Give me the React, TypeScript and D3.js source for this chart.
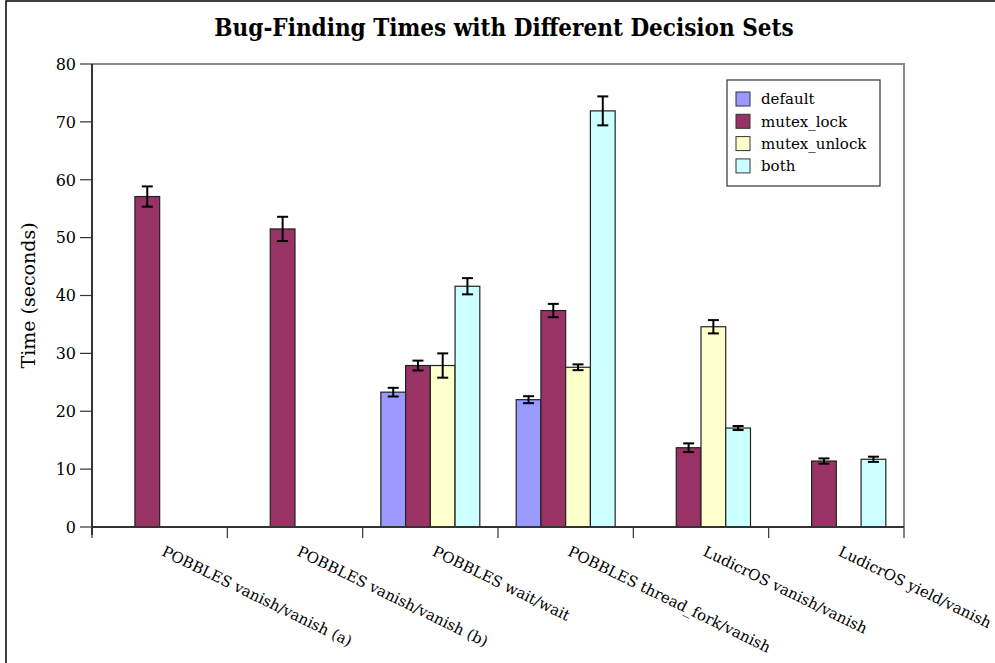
import * as d3 from "d3";

const W = 995;
const H = 663;
const MARGIN = { top: 64, right: 91, bottom: 136, left: 92 };

const categories = [
  "POBBLES vanish/vanish (a)",
  "POBBLES vanish/vanish (b)",
  "POBBLES wait/wait",
  "POBBLES thread_fork/vanish",
  "LudicrOS vanish/vanish",
  "LudicrOS yield/vanish",
];
const seriesNames = ["default", "mutex_lock", "mutex_unlock", "both"];
const seriesColors = ["#9999ff", "#993366", "#ffffcc", "#ccffff"];

const defaultTimes = [0, 0, 23.3, 22.0, 0, 0];
const mutexLockTimes = [57.1, 51.5, 27.9, 37.4, 13.7, 11.4];
const mutexUnlockTimes = [0, 0, 27.9, 27.6, 34.6, 0];
const bothTimes = [0, 0, 41.6, 71.9, 17.1, 11.7];

const defaultErr = [0, 0, 0.75, 0.6, 0, 0];
const mutexLockErr = [1.75, 2.1, 0.85, 1.15, 0.75, 0.45];
const mutexUnlockErr = [0, 0, 2.1, 0.5, 1.15, 0];
const bothErr = [0, 0, 1.4, 2.5, 0.35, 0.45];

const yTicks = [0, 10, 20, 30, 40, 50, 60, 70, 80];

const seriesValues = [defaultTimes, mutexLockTimes, mutexUnlockTimes, bothTimes];
const seriesErrors = [defaultErr, mutexLockErr, mutexUnlockErr, bothErr];

export default function App() {
  const x0 = d3
    .scaleBand<string>()
    .domain(categories)
    .range([MARGIN.left, W - MARGIN.right])
    .paddingInner(0)
    .paddingOuter(0);

  const x1 = d3
    .scaleBand<string>()
    .domain(seriesNames)
    .range([0, x0.bandwidth()])
    .paddingInner(0)
    .paddingOuter(0.735);

  const y = d3
    .scaleLinear()
    .domain([0, 80])
    .range([H - MARGIN.bottom, MARGIN.top]);

  const y0 = y(0);
  const left = MARGIN.left;
  const right = W - MARGIN.right;
  const serif = "'DejaVu Serif', serif";
  const serifCond = "'DejaVu Serif Condensed', 'DejaVu Serif', serif";

  return (
    <svg
      width={W}
      height={H}
      style={{ position: "absolute", left: 0, top: 0, background: "white" }}
    >
      {/* outer frame */}
      <rect x={6} y={1} width={W + 10} height={H + 10} fill="white" stroke="#000" strokeWidth={1.5} />

      {/* title */}
      <text
        x={504}
        y={36}
        textAnchor="middle"
        fontFamily={serifCond}
        fontWeight="bold"
        fontSize={24}
        fill="#000"
      >
        Bug-Finding Times with Different Decision Sets
      </text>

      {/* plot frame (top / right) */}
      <path
        d={`M${left},${y(80)}H${right}V${y0}`}
        fill="none"
        stroke="#8a8a8a"
        strokeWidth={2}
      />

      {/* bars */}
      {categories.map((cat, ci) => (
        <g key={cat} transform={`translate(${x0(cat)},0)`}>
          {seriesNames.map((s, si) => {
            const v = seriesValues[si][ci];
            const bx = x1(s)!;
            const bw = x1.bandwidth();
            if (v === 0) {
              return (
                <line
                  key={s}
                  x1={bx}
                  x2={bx + bw}
                  y1={y0}
                  y2={y0}
                  stroke="#222"
                  strokeWidth={2}
                />
              );
            }
            return (
              <rect
                key={s}
                x={bx}
                y={y(v)}
                width={bw}
                height={y0 - y(v)}
                fill={seriesColors[si]}
                stroke="#222"
                strokeWidth={1.2}
              />
            );
          })}
          {seriesNames.map((s, si) => {
            const v = seriesValues[si][ci];
            const e = seriesErrors[si][ci];
            if (v === 0 || e === 0) return null;
            const cx = x1(s)! + x1.bandwidth() / 2;
            const yt = y(v + e);
            const yb = y(v - e);
            return (
              <g key={s} stroke="#000" strokeWidth={2}>
                <line x1={cx} x2={cx} y1={yt} y2={yb} />
                <line x1={cx - 5.5} x2={cx + 5.5} y1={yt} y2={yt} />
                <line x1={cx - 5.5} x2={cx + 5.5} y1={yb} y2={yb} />
              </g>
            );
          })}
        </g>
      ))}

      {/* y axis */}
      <line x1={left} x2={left} y1={y(80)} y2={y0 + 8} stroke="#333" strokeWidth={2} />
      {yTicks.map((t) => (
        <g key={t}>
          <line x1={left - 12} x2={left} y1={y(t)} y2={y(t)} stroke="#333" strokeWidth={1.2} />
          <text
            x={left - 16}
            y={y(t)}
            dy="0.36em"
            textAnchor="end"
            fontFamily={serif}
            fontSize={16}
            fill="#000"
          >
            {t}
          </text>
        </g>
      ))}
      <text
        transform={`translate(35,${(y(80) + y0) / 2}) rotate(-90)`}
        textAnchor="middle"
        fontFamily={serif}
        fontSize={19}
        fill="#000"
      >
        Time (seconds)
      </text>

      {/* x axis */}
      <line x1={left} x2={right} y1={y0} y2={y0} stroke="#333" strokeWidth={2} />
      {[...categories.map((c) => x0(c)!), right].map((tx, i) => (
        <line key={i} x1={tx} x2={tx} y1={y0} y2={y0 + 11} stroke="#333" strokeWidth={1.2} />
      ))}
      {categories.map((cat) => {
        const cx = x0(cat)! + x0.bandwidth() / 2;
        return (
          <text
            key={cat}
            transform={`translate(${cx + 1},${y0 + 28}) rotate(26)`}
            fontFamily={serif}
            fontSize={15}
            fill="#000"
          >
            {cat}
          </text>
        );
      })}

      {/* legend */}
      <g transform="translate(727,80)">
        <rect x={0} y={0} width={153} height={106} fill="white" stroke="#333" strokeWidth={1.2} />
        {seriesNames.map((s, i) => (
          <g key={s} transform={`translate(9,${12 + i * 22.3})`}>
            <rect width={14} height={14} fill={seriesColors[i]} stroke="#333" strokeWidth={1} />
            <text x={25} y={7} dy="0.35em" fontFamily={serif} fontSize={15} fill="#000">
              {s}
            </text>
          </g>
        ))}
      </g>
    </svg>
  );
}
